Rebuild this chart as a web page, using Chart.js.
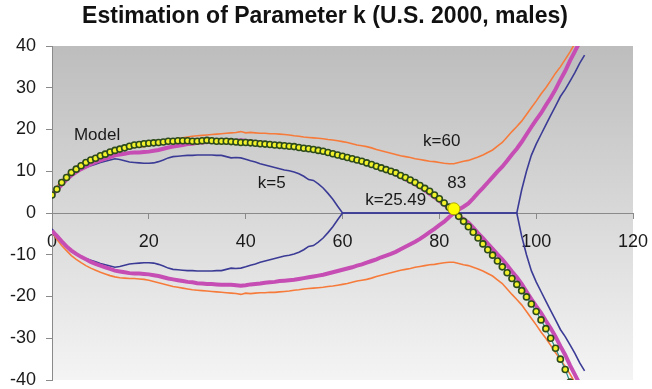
<!DOCTYPE html>
<html>
<head>
<meta charset="utf-8">
<script src="https://cdn.jsdelivr.net/npm/chart.js@4.4.1/dist/chart.umd.min.js"></script>
<style>
  html, body { margin: 0; padding: 0; background: #fff; }
</style>
</head>
<body>
<canvas id="chart" width="652" height="389"></canvas>
<script>
// ages (x values), one point per year
const ages = [
  0, 1, 2, 3, 4, 5, 6, 7, 8, 9,
  10, 11, 12, 13, 14, 15, 16, 17, 18, 19,
  20, 21, 22, 23, 24, 25, 26, 27, 28, 29,
  30, 31, 32, 33, 34, 35, 36, 37, 38, 39,
  40, 41, 42, 43, 44, 45, 46, 47, 48, 49,
  50, 51, 52, 53, 54, 55, 56, 57, 58, 59,
  60, 61, 62, 63, 64, 65, 66, 67, 68, 69,
  70, 71, 72, 73, 74, 75, 76, 77, 78, 79,
  80, 81, 82, 83, 84, 85, 86, 87, 88, 89,
  90, 91, 92, 93, 94, 95, 96, 97, 98, 99,
  100, 101, 102, 103, 104, 105, 106, 107, 108, 109, 110
];

// model curve (ages 0..107)
const modelVals = [
  4.3, 5.7, 7.3, 8.5, 9.7, 10.5, 11.3, 12.1, 12.7, 13.1,
  13.7, 14.1, 14.6, 15.0, 15.3, 15.6, 16.0, 16.3, 16.4, 16.6,
  16.7, 16.8, 16.9, 17.0, 17.2, 17.2, 17.3, 17.3, 17.3, 17.2,
  17.2, 17.3, 17.4, 17.3, 17.2, 17.2, 17.2, 17.1, 17.0, 16.9,
  16.9, 16.8, 16.7, 16.6, 16.5, 16.4, 16.3, 16.2, 16.1, 16.0,
  15.9, 15.7, 15.5, 15.4, 15.2, 15.0, 14.8, 14.5, 14.2, 13.9,
  13.6, 13.3, 13.0, 12.7, 12.4, 12.0, 11.6, 11.2, 10.8, 10.4,
  10.0, 9.6, 9.0, 8.5, 7.9, 7.3, 6.6, 5.9, 5.2, 4.3,
  3.4, 2.4, 1.4, 0.4, -0.8, -2.0, -3.3, -4.6, -6.0, -7.4,
  -8.8, -10.1, -11.5, -12.9, -14.3, -15.7, -17.1, -18.6, -20.1, -21.8,
  -23.6, -25.6, -27.7, -30.0, -32.4, -35.0, -37.5, -40.5
];

// k=25.49 (upper branch, lower branch is its mirror)
const k25Vals = [
  4.3, 5.5, 6.8, 8.0, 9.0, 9.8, 10.5, 11.1, 11.7, 12.2,
  12.6, 13.0, 13.4, 13.8, 14.0, 14.2, 14.4, 14.5, 14.5, 14.6,
  14.7, 14.9, 15.1, 15.4, 15.7, 15.9, 16.1, 16.3, 16.5, 16.6,
  16.8, 16.9, 17.0, 17.0, 17.1, 17.2, 17.2, 17.2, 17.3, 17.4,
  17.3, 17.1, 17.0, 16.9, 16.7, 16.6, 16.5, 16.3, 16.2, 16.1,
  16.0, 15.8, 15.6, 15.4, 15.2, 15.0, 14.8, 14.5, 14.2, 13.9,
  13.6, 13.3, 13.0, 12.6, 12.3, 11.9, 11.5, 11.1, 10.6, 10.2,
  9.8, 9.3, 8.7, 8.1, 7.5, 6.9, 6.2, 5.4, 4.6, 3.8,
  2.9, 2.1, 1.0, 0.0, -0.8, -1.5, -2.3, -3.5, -4.8, -6.0,
  -7.3, -8.6, -9.9, -11.1, -12.5, -14.0, -15.4, -17.0, -18.8, -20.6,
  -22.3, -23.9, -25.8, -27.6, -29.6, -31.9, -34.0, -36.5, -38.7, -41.0, -43.0
];

// k=5
const k5Vals = [
  3.8, 5.3, 6.8, 8.0, 9.0, 9.8, 10.4, 10.9, 11.3, 11.7,
  12.1, 12.4, 12.7, 13.0, 12.8, 12.5, 12.2, 12.1, 12.0, 11.9,
  11.9, 12.0, 12.3, 12.7, 13.2, 13.5, 13.6, 13.7, 13.8, 13.8,
  13.9, 13.9, 13.9, 13.9, 13.8, 13.8, 13.5, 13.2, 13.3, 13.2,
  12.9, 12.5, 12.2, 11.8, 11.5, 11.2, 10.9, 10.6, 10.3, 10.1,
  9.8, 9.4, 8.8, 8.0, 7.8, 7.0, 6.0, 4.7, 3.3, 1.6,
  0, 0, 0, 0, 0, 0, 0, 0, 0, 0,
  0, 0, 0, 0, 0, 0, 0, 0, 0, 0,
  0, 0, 0, 0, 0, 0, 0, 0, 0, 0,
  0, 0, 0, 0, 0, 0, 0, 5.5, 10.0, 13.8,
  16.5, 18.8, 21.1, 23.4, 25.6, 27.9, 29.6, 31.6, 33.6, 35.9, 37.8
];

// k=60
const k60Vals = [
  4.6, 6.3, 7.8, 9.0, 10.2, 11.1, 11.9, 12.6, 13.2, 13.7,
  14.2, 14.6, 15.0, 15.3, 15.5, 15.6, 15.7, 15.7, 15.8, 15.9,
  16.1, 16.4, 16.7, 17.0, 17.3, 17.6, 17.8, 18.0, 18.2, 18.4,
  18.5, 18.6, 18.7, 18.8, 18.9, 19.0, 19.1, 19.2, 19.3, 19.5,
  19.2, 19.3, 19.2, 19.1, 19.1, 19.0, 19.0, 18.9, 18.8, 18.7,
  18.5, 18.4, 18.2, 18.1, 18.0, 17.9, 17.8, 17.6, 17.5, 17.3,
  17.1, 16.9, 16.6, 16.3, 16.1, 15.9, 15.6, 15.2, 14.9, 14.6,
  14.3, 14.0, 13.7, 13.5, 13.3, 13.0, 12.8, 12.6, 12.4, 12.3,
  12.1, 11.9, 11.8, 11.8, 12.1, 12.4, 12.6, 13.0, 13.4, 13.9,
  14.5, 15.1, 16.0, 16.9, 18.2, 19.5, 20.7, 22.0, 23.6, 25.2,
  26.8, 28.5, 30.0, 31.7, 33.5, 35.0, 36.8, 38.6, 40.6, 42.5, 44.5
];

// estimated k where the model crosses zero
const crossX = [83];
const crossY = [1];

// text labels, placed in data units
const labelText = ['Model', 'k=5', 'k=25.49', 'k=60', '83'];
const labelX = [9.3, 45.4, 71, 80.5, 83.6];
const labelY = [18.7, 7.2, 3.1, 17.1, 7.0];

const xTicks = [0, 20, 40, 60, 80, 100, 120];
const yTicks = [-40, -30, -20, -10, 0, 10, 20, 30, 40];

const TITLE = 'Estimation of Parameter k (U.S. 2000, males)';
const FONT = "'Liberation Sans', Arial, sans-serif";

function toPoints(ys, sign) {
  return ys.map((v, i) => ({ x: ages[i], y: sign * v }));
}

function curve(ys, sign, color, width) {
  return {
    data: toPoints(ys, sign),
    showLine: true,
    borderColor: color,
    borderWidth: width,
    pointRadius: 0,
    tension: 0
  };
}

const ORANGE = '#f67b3b';
const BLUE = '#3b3b96';
const MAGENTA = '#c54db3';

const plotBackground = {
  id: 'plotBackground',
  beforeDraw(chart) {
    const { ctx, chartArea: a } = chart;
    const g = ctx.createLinearGradient(0, a.top, 0, a.bottom);
    g.addColorStop(0, '#bdbdbd');
    g.addColorStop(1, '#f4f4f4');
    ctx.save();
    ctx.fillStyle = g;
    ctx.fillRect(a.left, a.top, a.right - a.left, a.bottom - a.top);
    ctx.restore();
  }
};

// title sits a little right of the canvas centre, so it is drawn here
const titleText = {
  id: 'titleText',
  afterDraw(chart) {
    const { ctx } = chart;
    ctx.save();
    ctx.font = 'bold 23px ' + FONT;
    ctx.fillStyle = '#111';
    ctx.textAlign = 'center';
    ctx.textBaseline = 'middle';
    ctx.fillText(TITLE, 325, 17);
    ctx.restore();
  }
};

const textLabels = {
  id: 'textLabels',
  afterDatasetsDraw(chart) {
    const { ctx, scales } = chart;
    ctx.save();
    ctx.font = '17px ' + FONT;
    ctx.fillStyle = '#1a1a1a';
    ctx.textAlign = 'center';
    ctx.textBaseline = 'middle';
    labelText.forEach((t, i) => {
      ctx.fillText(t, scales.x.getPixelForValue(labelX[i]), scales.y.getPixelForValue(labelY[i]));
    });
    ctx.restore();
  }
};

// datasets listed top layer first (Chart.js paints the first one last)
new Chart(document.getElementById('chart'), {
  type: 'scatter',
  data: {
    datasets: [
      {
        data: crossX.map((x, i) => ({ x: x, y: crossY[i] })),
        pointRadius: 6,
        pointBorderWidth: 1,
        pointBorderColor: '#b0a800',
        pointBackgroundColor: '#ffff00'
      },
      {
        data: toPoints(modelVals, 1),
        showLine: true,
        borderColor: '#2a9088',
        borderWidth: 1.2,
        pointRadius: 3,
        pointBorderWidth: 1.6,
        pointBorderColor: '#2c4a1c',
        pointBackgroundColor: '#f2f22a'
      },
      curve(k25Vals, 1, MAGENTA, 4),
      curve(k25Vals, -1, MAGENTA, 4),
      curve(k5Vals, 1, BLUE, 1.6),
      curve(k5Vals, -1, BLUE, 1.6),
      curve(k60Vals, 1, ORANGE, 1.6),
      curve(k60Vals, -1, ORANGE, 1.6)
    ]
  },
  options: {
    responsive: false,
    animation: false,
    layout: { padding: { top: 46, left: 0, right: 19, bottom: 9 } },
    plugins: {
      legend: { display: false },
      tooltip: { enabled: false },
      title: { display: false }
    },
    scales: {
      x: {
        type: 'linear',
        position: { y: 0 },
        min: 0,
        max: 120,
        afterBuildTicks: s => { s.ticks = xTicks.map(v => ({ value: v })); },
        afterFit: s => { s.paddingLeft = 0; s.paddingRight = 0; },
        grid: { drawOnChartArea: false, tickLength: 5, color: '#8a8a8a' },
        border: { color: '#8a8a8a' },
        ticks: { color: '#1a1a1a', padding: 13, maxRotation: 0, font: { family: FONT, size: 18 } }
      },
      y: {
        type: 'linear',
        min: -40,
        max: 40,
        afterBuildTicks: s => { s.ticks = yTicks.map(v => ({ value: v })); },
        afterFit: s => { s.width = 52; s.paddingTop = 0; s.paddingBottom = 0; },
        grid: { drawOnChartArea: false, tickLength: 6, color: '#8a8a8a' },
        border: { color: '#8a8a8a' },
        ticks: { color: '#1a1a1a', padding: 10, font: { family: FONT, size: 18 } }
      }
    }
  },
  plugins: [plotBackground, titleText, textLabels]
});
</script>
</body>
</html>
